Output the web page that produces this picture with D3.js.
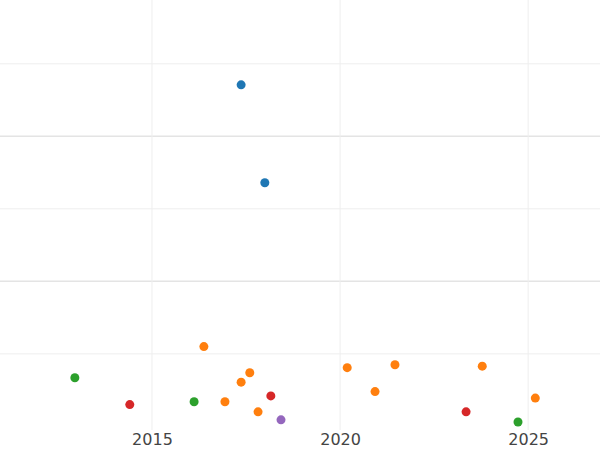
<!DOCTYPE html>
<html><head><meta charset="utf-8">
<script src="https://cdn.jsdelivr.net/npm/d3@7"></script>
<style>body{margin:0;background:#fff}</style></head>
<body><svg id="c" width="600" height="450"></svg>
<script>
const groups = ["blue","green","red","orange","purple"];
const colors = ["#1f77b4","#2ca02c","#d62728","#ff7f0e","#9467bd"];
const blueX = [2017.37, 2018.0], blueY = [4.71, 3.36];
const greenX = [2012.95, 2016.12, 2024.73], greenY = [0.67, 0.34, 0.06];
const redX = [2014.41, 2018.16, 2023.35], redY = [0.30, 0.42, 0.20];
const orangeX = [2016.38, 2017.6, 2017.37, 2016.94, 2017.82, 2020.19, 2020.93, 2021.46, 2023.78, 2025.19];
const orangeY = [1.10, 0.74, 0.61, 0.34, 0.20, 0.81, 0.48, 0.85, 0.83, 0.39];
const purpleX = [2018.43], purpleY = [0.09];
const xTicks = [2015, 2020, 2025];
const yGrid = [1, 2, 3, 4, 5];
const seriesX = [blueX, greenX, redX, orangeX, purpleX];
const seriesY = [blueY, greenY, redY, orangeY, purpleY];

const svg = d3.select("#c");
const x = d3.scaleLinear().domain([2010.96, 2026.91]).range([0, 600]);
const y = d3.scaleLinear().domain([-0.05, 5.88]).range([430, 0]);

svg.append("g").selectAll("line").data(yGrid).join("line")
  .attr("x1", 0).attr("x2", 600).attr("y1", d => y(d)).attr("y2", d => y(d))
  .attr("stroke", d => d % 2 === 0 ? "#e4e4e4" : "#eeeeee").attr("stroke-width", d => d % 2 === 0 ? 1.5 : 1);
svg.append("g").selectAll("line").data(xTicks).join("line")
  .attr("x1", d => x(d)).attr("x2", d => x(d)).attr("y1", 0).attr("y2", 430)
  .attr("stroke", "#eeeeee");

const ax = svg.append("g").attr("transform", "translate(0,430)")
  .call(d3.axisBottom(x).tickValues(xTicks).tickFormat(d3.format("d")).tickSize(0).tickPadding(4));
ax.select(".domain").remove();
ax.selectAll("text").attr("font-family", "DejaVu Sans").attr("font-size", 16).attr("fill", "#444");

groups.forEach((g, i) => {
  svg.append("g").selectAll("circle").data(seriesX[i]).join("circle")
    .attr("cx", d => x(d)).attr("cy", (d, j) => y(seriesY[i][j]))
    .attr("r", 4.5).attr("fill", colors[i]);
});
</script></body></html>
